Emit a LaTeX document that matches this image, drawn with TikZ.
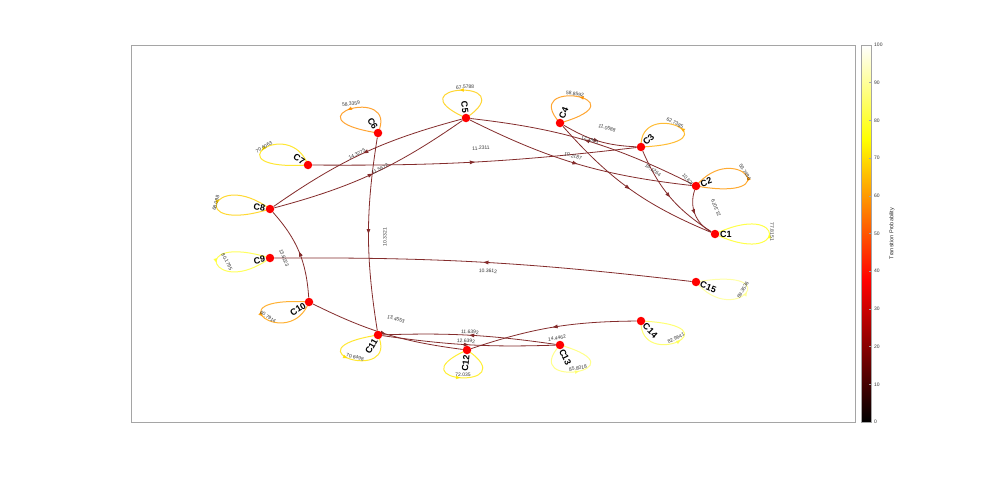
\documentclass[tikz,border=0pt]{standalone}
\usepackage{fontspec}
\setmainfont{Liberation Sans}
\usetikzlibrary{arrows.meta,decorations.markings,calc}
\pgfdeclarelayer{bg}
\pgfsetlayers{bg,main}
\definecolor{edgecol}{RGB}{132,44,44}
\definecolor{framecol}{RGB}{165,165,165}
\definecolor{txtcol}{RGB}{55,55,55}
\definecolor{lc1}{rgb}{1,1,0.113}
\definecolor{lc2}{rgb}{1,0.593,0}
\definecolor{lc3}{rgb}{1,0.673,0}
\definecolor{lc4}{rgb}{1,0.570,0}
\definecolor{lc5}{rgb}{1,0.802,0}
\definecolor{lc6}{rgb}{1,0.556,0}
\definecolor{lc7}{rgb}{1,0.883,0}
\definecolor{lc8}{rgb}{1,0.816,0}
\definecolor{lc9}{rgb}{1,1,0.207}
\definecolor{lc10}{rgb}{1,0.621,0}
\definecolor{lc11}{rgb}{1,0.884,0}
\definecolor{lc12}{rgb}{1,0.921,0}
\definecolor{lc13}{rgb}{1,1,0.432}
\definecolor{lc14}{rgb}{1,1,0.319}
\definecolor{lc15}{rgb}{1,1,0.574}
\tikzset{
  vtx/.style={circle, fill=red, draw=none, inner sep=0pt, minimum size=8.5pt},
  vlab/.style={font=\fontsize{9}{10}\selectfont\bfseries, inner sep=0.3pt, text=black},
  elab/.style={font=\fontsize{5}{6}\selectfont, inner sep=0pt, text=txtcol},
  trans/.style={draw=edgecol, line width=0.8pt, bend right=#1, postaction={decorate},
    decoration={markings, mark=at position 0.5 with {\arrow[edgecol]{Triangle[length=5pt,width=3.6pt]}}}},
  selfloop/.style={draw=#1, draw opacity=0.8, line width=1pt, postaction={decorate},
    decoration={markings, mark=at position 0.5 with {\arrow[#1]{Triangle[length=4.5pt,width=3.4pt]}}}},
  cbtick/.style={font=\fontsize{5}{6}\selectfont, text=txtcol, anchor=west, inner sep=0pt},
}
\begin{document}
\begin{tikzpicture}[x=1pt,y=-1pt]
\useasboundingbox (0,0) rectangle (984,484);
% vertices
\node[vtx] (C1) at (715,234) {};
\node[vtx] (C2) at (696,186) {};
\node[vtx] (C3) at (641,147) {};
\node[vtx] (C4) at (560,123) {};
\node[vtx] (C5) at (466,118) {};
\node[vtx] (C6) at (378,133) {};
\node[vtx] (C7) at (308,165) {};
\node[vtx] (C8) at (270,209) {};
\node[vtx] (C9) at (270,258) {};
\node[vtx] (C10) at (309,302) {};
\node[vtx] (C11) at (378,335) {};
\node[vtx] (C12) at (467,350) {};
\node[vtx] (C13) at (560,345) {};
\node[vtx] (C14) at (641,321) {};
\node[vtx] (C15) at (696,282) {};
% vertex labels
\node[vlab, rotate=0, anchor=west] (L1) at ($(C1)+(0:4.5pt)$) {C1};
\node[vlab, rotate=20, anchor=west] (L2) at ($(C2)+(20:4.5pt)$) {C2};
\node[vlab, rotate=45, anchor=west] (L3) at ($(C3)+(45:4.5pt)$) {C3};
\node[vlab, rotate=68, anchor=west] (L4) at ($(C4)+(72:4.5pt)$) {C4};
\node[vlab, rotate=-84, anchor=east] (L5) at ($(C5)+(96:4.5pt)$) {C5};
\node[vlab, rotate=-60, anchor=east] (L6) at ($(C6)+(120:4.5pt)$) {C6};
\node[vlab, rotate=-32, anchor=east] (L7) at ($(C7)+(144:4.5pt)$) {C7};
\node[vlab, rotate=-10, anchor=east] (L8) at ($(C8)+(168:4.5pt)$) {C8};
\node[vlab, rotate=10, anchor=east] (L9) at ($(C9)+(192:4.5pt)$) {C9};
\node[vlab, rotate=32, anchor=east] (L10) at ($(C10)+(216:4.5pt)$) {C10};
\node[vlab, rotate=60, anchor=east] (L11) at ($(C11)+(240:4.5pt)$) {C11};
\node[vlab, rotate=84, anchor=east] (L12) at ($(C12)+(264:4.5pt)$) {C12};
\node[vlab, rotate=-64, anchor=west] (L13) at ($(C13)+(288:4.5pt)$) {C13};
\node[vlab, rotate=-45, anchor=west] (L14) at ($(C14)+(312:4.5pt)$) {C14};
\node[vlab, rotate=-22, anchor=west] (L15) at ($(C15)+(336:4.5pt)$) {C15};

\begin{pgfonlayer}{bg}
\fill[white] (0,0) rectangle (984,484);
\draw[framecol, line width=0.6pt] (131,45) rectangle (855,422);
% transitions
\draw[trans=10] (C5) to (C8);
\draw[trans=10] (C8) to (C5);
\draw[trans=3.5] (C7) to (C3);
\draw[trans=10] (C5) to (C2);
\draw[trans=10] (C2) to (C5);
\draw[trans=14] (C4) to (C3);
\draw[trans=13] (C4) to (C1);
\draw[trans=17] (C3) to (C1);
\draw[trans=40] (C2) to (C1);
\draw[trans=9] (C6) to (C11);
\draw[trans=19] (C10) to (C8);
\draw[trans=3.5] (C15) to (C9);
\draw[trans=9.5] (C10) to (C12);
\draw[trans=5] (C11) to (C13);
\draw[trans=5] (C13) to (C11);
\draw[trans=9] (C14) to (C12);
% self loops
\foreach \k in {1,...,15}{
  \pgfmathsetmacro\ang{24*(\k-1)}
  \pgfmathsetmacro\ax{99.4*cos(\ang-43)}
  \pgfmathsetmacro\ay{-51*sin(\ang-43)}
  \pgfmathsetmacro\bx{99.4*cos(\ang+43)}
  \pgfmathsetmacro\by{-51*sin(\ang+43)}
  \draw[selfloop=lc\k] (C\k.center) .. controls ($(C\k)+(\ax,\ay)$) and ($(C\k)+(\bx,\by)$) .. (C\k.center);
}
% transition labels
\node[elab, rotate=25] (e1) at (357,154) {14.3275};
\node[elab, rotate=25] (e2) at (380,169) {11.5672};
\node[elab, rotate=3] (e3) at (481,148) {11.2311};
\node[elab, rotate=-16] (e4) at (607,128) {11.0588};
\node[elab, rotate=-16] (e5) at (590,140) {12.1891};
\node[elab, rotate=-16] (e6) at (573,156) {10.2187};
\node[elab, rotate=-36] (e7) at (653,170) {16.1264};
\node[elab, rotate=-50] (e8) at (689,181) {10.6204};
\node[elab, rotate=112] (e9) at (716,208) {21.3079};
\node[elab, rotate=90] (e10) at (385,237) {10.3321};
\node[elab, rotate=-68] (e11) at (284,258) {13.6223};
\node[elab, rotate=-3] (e12) at (488,271) {10.3612};
\node[elab, rotate=-17] (e13) at (396,319) {13.4553};
\node[elab, rotate=-3] (e14) at (470,332) {11.6392};
\node[elab, rotate=-3] (e15) at (466,341) {12.6392};
\node[elab, rotate=9] (e16) at (557,338) {14.4462};
% loop labels
\node[elab, rotate=-90] (s1) at (772,232) {77.8151};
\node[elab, rotate=-58] (s2) at (745,172) {59.7496};
\node[elab, rotate=-25] (s3) at (675,123) {62.7385};
\node[elab, rotate=-8] (s4) at (575,94) {58.8592};
\node[elab, rotate=3] (s5) at (465,87) {67.5788};
\node[elab, rotate=8] (s6) at (351,104) {58.3359};
\node[elab, rotate=30] (s7) at (264,147) {70.6063};
\node[elab, rotate=75] (s8) at (216,203) {68.098};
\node[elab, rotate=-62] (s9) at (227,262) {80.1795};
\node[elab, rotate=-35] (s10) at (268,317) {60.7914};
\node[elab, rotate=-15] (s11) at (355,357) {70.6498};
\node[elab, rotate=0] (s12) at (463,375) {72.035};
\node[elab, rotate=10] (s13) at (578,368) {85.8018};
\node[elab, rotate=25] (s14) at (676,338) {82.9641};
\node[elab, rotate=60] (s15) at (743,290) {89.3536};
\end{pgfonlayer}

% colour bar
\shade[bottom color=black, top color=red] (861,422) rectangle (871,280.6);
\shade[bottom color=red, top color=yellow] (861,280.6) rectangle (871,139.25);
\shade[bottom color=yellow, top color=white] (861,139.25) rectangle (871,45);
\draw[framecol, line width=0.6pt] (861,45) rectangle (871,422);
\foreach \v in {0,10,...,100}{
  \pgfmathsetmacro\ty{422-3.77*\v}
  \draw[framecol, line width=0.5pt] (869,\ty) -- (871,\ty);
  \node[cbtick] (t\v) at (874,\ty) {\v};
}
\node[font=\fontsize{5.5}{6}\selectfont, text=black!85, rotate=90, inner sep=0pt] (cbtitle) at (892,233.5) {Transition Probability};
\end{tikzpicture}
\end{document}
